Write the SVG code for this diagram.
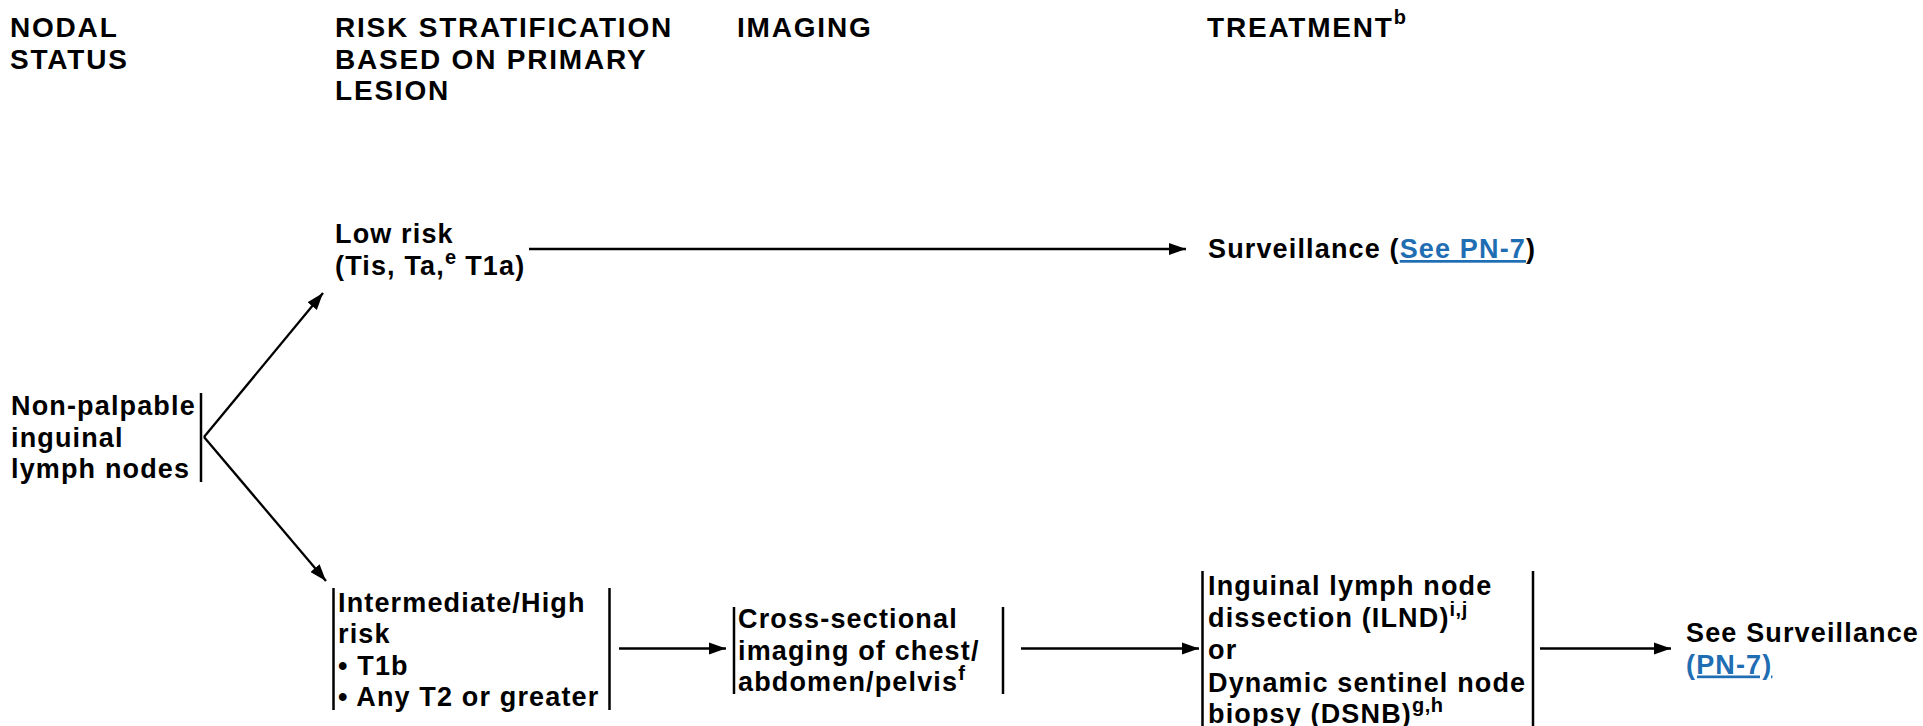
<svg xmlns="http://www.w3.org/2000/svg" width="1923" height="726" viewBox="0 0 1923 726">
<style>
  text { font-family: "Liberation Sans", Arial, sans-serif; font-weight: bold; fill: #000; }
  .hdr { font-size: 28px; letter-spacing: 1.8px; }
  .body { font-size: 27px; letter-spacing: 1.15px; }
  .sup { font-size: 20px; letter-spacing: 0.5px; }
  .link { fill: #1f6db2; text-decoration: underline; }
  .conn line, .conn path { stroke: #000; stroke-width: 2.3; fill: none; }
  .bar { stroke: #000; stroke-width: 2.5; }
</style>
<defs>
  <marker id="ah" markerUnits="userSpaceOnUse" markerWidth="18" markerHeight="14" refX="17" refY="7" orient="auto">
    <path d="M0,1 L17,7 L0,13 z" fill="#000"/>
  </marker>
</defs>
<rect width="1923" height="726" fill="#fff"/>

<g id="headers">
  <text class="hdr" x="10" y="37"><tspan x="10">NODAL</tspan><tspan x="10" dy="31.7">STATUS</tspan></text>
  <text class="hdr" x="335" y="37"><tspan x="335">RISK STRATIFICATION</tspan><tspan x="335" dy="31.7">BASED ON PRIMARY</tspan><tspan x="335" dy="31.7">LESION</tspan></text>
  <text class="hdr" x="737" y="37">IMAGING</text>
  <text class="hdr" x="1207" y="37">TREATMENT<tspan class="sup" dy="-13">b</tspan></text>
</g>

<g id="node-nonpalpable">
  <text class="body" x="11" y="415"><tspan x="11">Non-palpable</tspan><tspan x="11" dy="31.7">inguinal</tspan><tspan x="11" dy="31.7">lymph nodes</tspan></text>
  <line class="bar" x1="201" y1="393" x2="201" y2="482"/>
</g>

<g id="node-lowrisk">
  <text class="body" x="335" y="243"><tspan x="335">Low risk</tspan><tspan x="335" dy="32">(Tis, Ta,</tspan><tspan class="sup" dy="-11">e</tspan><tspan dy="11"> T1a)</tspan></text>
</g>

<g id="node-surveillance">
  <text class="body" x="1208" y="258">Surveillance (<tspan class="link">See PN-7</tspan>)</text>
</g>

<g id="node-intermediate">
  <text class="body" x="338" y="612"><tspan x="338">Intermediate/High</tspan><tspan x="338" dy="31.3">risk</tspan><tspan x="338" dy="31.3">• T1b</tspan><tspan x="338" dy="31.3">• Any T2 or greater</tspan></text>
  <line class="bar" x1="333.5" y1="588" x2="333.5" y2="710"/>
  <line class="bar" x1="609.5" y1="588" x2="609.5" y2="710"/>
</g>

<g id="node-imaging">
  <text class="body" x="738" y="628"><tspan x="738">Cross-sectional</tspan><tspan x="738" dy="31.5">imaging of chest/</tspan><tspan x="738" dy="31.5">abdomen/pelvis</tspan><tspan class="sup" dy="-11">f</tspan></text>
  <line class="bar" x1="734" y1="607" x2="734" y2="694"/>
  <line class="bar" x1="1003" y1="607" x2="1003" y2="694"/>
</g>

<g id="node-treatment">
  <text class="body" x="1208" y="595"><tspan x="1208">Inguinal lymph node</tspan><tspan x="1208" dy="31.5">dissection (ILND)</tspan><tspan class="sup" dy="-11">i,j</tspan><tspan x="1208" dy="43.5">or</tspan><tspan x="1208" dy="32.5">Dynamic sentinel node</tspan><tspan x="1208" dy="31.5">biopsy (DSNB)</tspan><tspan class="sup" dy="-11">g,h</tspan></text>
  <line class="bar" x1="1202.5" y1="571" x2="1202.5" y2="726"/>
  <line class="bar" x1="1533" y1="571" x2="1533" y2="726"/>
</g>

<g id="node-see-surveillance">
  <text class="body" x="1686" y="642"><tspan x="1686">See Surveillance</tspan><tspan x="1686" dy="31.5" class="link">(PN-7)</tspan></text>
</g>

<g id="connectors" class="conn">
  <line x1="204" y1="437" x2="323" y2="293" marker-end="url(#ah)"/>
  <line x1="204" y1="437" x2="326" y2="581" marker-end="url(#ah)"/>
  <line x1="529" y1="249" x2="1186" y2="249" marker-end="url(#ah)"/>
  <line x1="619" y1="648.5" x2="726" y2="648.5" marker-end="url(#ah)"/>
  <line x1="1021" y1="648.5" x2="1199" y2="648.5" marker-end="url(#ah)"/>
  <line x1="1540" y1="648.5" x2="1671" y2="648.5" marker-end="url(#ah)"/>
</g>
</svg>
